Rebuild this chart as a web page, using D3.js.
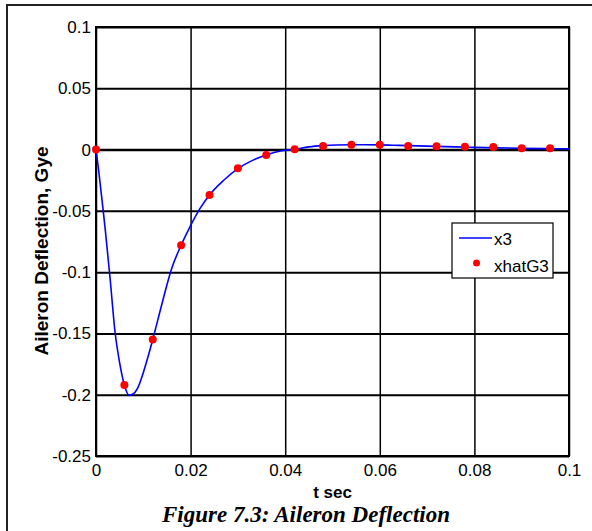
<!DOCTYPE html>
<html lang="en">
<head>
<meta charset="utf-8">
<script src="https://cdn.jsdelivr.net/npm/d3@7"></script>
<style>
    body { margin: 0; background: #fff; }
    .tick text { font-family: "Liberation Sans", Arial, sans-serif; font-size: 17px; fill: #000; }
    .grid .domain { display: none; }
    .grid line { stroke: #000; stroke-width: 1.5; }
    .grid--y line { stroke-width: 2; }
</style>
</head>
<body>
<svg width="592" height="531"></svg>
<script>
    // x3 trace (time, value)
    var x3T = [0, 0.0005, 0.001, 0.0015, 0.002, 0.003, 0.004, 0.005, 0.006, 0.007, 0.008, 0.009,
        0.010, 0.011, 0.012, 0.013, 0.014, 0.016, 0.018, 0.020, 0.022, 0.024, 0.027, 0.030, 0.033,
        0.036, 0.039, 0.042, 0.045, 0.048, 0.051, 0.054, 0.057, 0.060, 0.064, 0.068, 0.072, 0.076,
        0.080, 0.085, 0.090, 0.095, 0.100];
    var x3V = [0, -0.015, -0.032, -0.049, -0.067, -0.106, -0.148, -0.174, -0.192, -0.2005, -0.199, -0.193,
        -0.182, -0.169, -0.155, -0.140, -0.125, -0.097, -0.078, -0.062, -0.048, -0.037, -0.025, -0.0155, -0.009,
        -0.0045, -0.0012, 0.0003, 0.0022, 0.0032, 0.0037, 0.0039, 0.0039, 0.0038, 0.0034, 0.003, 0.0026, 0.0022,
        0.0018, 0.0014, 0.001, 0.0008, 0.0006];

    // xhatG3 samples
    var dotT = [0, 0.006, 0.012, 0.018, 0.024, 0.030, 0.036, 0.042, 0.048, 0.054, 0.060, 0.066,
        0.072, 0.078, 0.084, 0.090, 0.096];
    var dotV = [0, -0.192, -0.155, -0.078, -0.037, -0.0153, -0.0044, 0.0003, 0.003, 0.0039, 0.0039, 0.003,
        0.0027, 0.0022, 0.002, 0.001, 0.001];

    var xTicks = [0, 0.02, 0.04, 0.06, 0.08, 0.1];
    var yTicks = [-0.25, -0.2, -0.15, -0.1, -0.05, 0, 0.05, 0.1];

    var svg = d3.select("svg"),
        margin = { top: 27, right: 23, bottom: 75, left: 96 },
        width = +svg.attr("width") - margin.left - margin.right,
        height = +svg.attr("height") - margin.top - margin.bottom;

    // outer figure frame
    svg.append("rect")
        .attr("x", 7).attr("y", 5)
        .attr("width", 620).attr("height", 600)
        .attr("fill", "none").attr("stroke", "#222").attr("stroke-width", 2);

    var x = d3.scaleLinear().domain([0, 0.1]).range([0, width]);
    var y = d3.scaleLinear().domain([-0.25, 0.1]).range([height, 0]);

    var g = svg.append("g")
        .attr("transform", "translate(" + margin.left + "," + margin.top + ")");

    //grid + tick labels
    g.append("g")
        .attr("class", "grid grid--x")
        .attr("transform", "translate(0," + height + ")")
        .call(d3.axisBottom(x).tickValues(xTicks).tickSize(-height).tickPadding(8)
            .tickFormat(function (d) { return d3.format("")(+d.toFixed(2)); }));

    var gy = g.append("g")
        .attr("class", "grid grid--y")
        .call(d3.axisLeft(y).tickValues(yTicks).tickSize(-width).tickPadding(5)
            .tickFormat(function (d) { return d3.format("")(+d.toFixed(2)).replace("−", "-"); }));
    // zero line drawn a bit heavier
    gy.selectAll(".tick line").filter(function (d) { return d === 0; }).style("stroke-width", 2.6);

    // plot box
    g.append("rect")
        .attr("width", width).attr("height", height)
        .attr("fill", "none").attr("stroke", "#000").attr("stroke-width", 2);

    // x3 line
    var line = d3.line()
        .x(function (d, i) { return x(x3T[i]); })
        .y(function (d) { return y(d); })
        .curve(d3.curveMonotoneX);

    g.append("path")
        .datum(x3V)
        .attr("d", line)
        .attr("fill", "none")
        .attr("stroke", "#0000ff")
        .attr("stroke-width", 1.6);

    // xhatG3 dots
    g.selectAll(".dot")
        .data(dotV)
        .enter().append("circle")
        .attr("class", "dot")
        .attr("cx", function (d, i) { return x(dotT[i]); })
        .attr("cy", function (d) { return y(d); })
        .attr("r", 4)
        .attr("fill", "#ff0000");

    // axis labels
    svg.append("text")
        .attr("transform", "translate(48,251) rotate(-90)")
        .attr("text-anchor", "middle")
        .style("font-family", "'Liberation Sans', Arial, sans-serif")
        .style("font-weight", "bold")
        .style("font-size", "19px")
        .text("Aileron Deflection, Gye");

    svg.append("text")
        .attr("x", margin.left + width / 2)
        .attr("y", 498)
        .attr("text-anchor", "middle")
        .style("font-family", "'Liberation Sans', Arial, sans-serif")
        .style("font-weight", "bold")
        .style("font-size", "17px")
        .text("t sec");

    // caption
    svg.append("text")
        .attr("x", 306)
        .attr("y", 522)
        .attr("text-anchor", "middle")
        .style("font-family", "'Liberation Serif', 'Times New Roman', serif")
        .style("font-weight", "bold")
        .style("font-style", "italic")
        .style("font-size", "23px")
        .text("Figure 7.3: Aileron Deflection");

    // legend
    var leg = svg.append("g").attr("transform", "translate(452,223)");
    leg.append("rect")
        .attr("width", 101).attr("height", 55)
        .attr("fill", "#fff").attr("stroke", "#000").attr("stroke-width", 1.2);
    leg.append("line")
        .attr("x1", 7).attr("x2", 40).attr("y1", 15).attr("y2", 15)
        .attr("stroke", "#0000ff").attr("stroke-width", 1.6);
    leg.append("circle")
        .attr("cx", 24.5).attr("cy", 40).attr("r", 3.5).attr("fill", "#ff0000");
    leg.selectAll(".lt")
        .data(["x3", "xhatG3"])
        .enter().append("text")
        .attr("x", 42)
        .attr("y", function (d, i) { return i === 0 ? 22 : 49; })
        .style("font-family", "'Liberation Sans', Arial, sans-serif")
        .style("font-size", "17px")
        .text(function (d) { return d; });
</script>
</body>
</html>
